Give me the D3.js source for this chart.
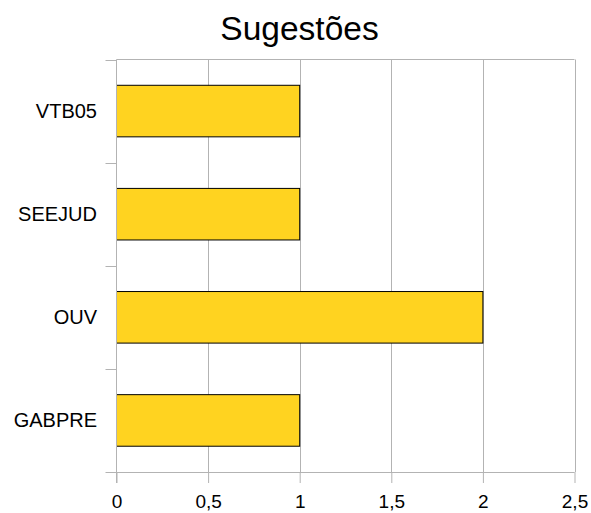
<!DOCTYPE html>
<html><head><meta charset="utf-8">
<script src="https://cdn.jsdelivr.net/npm/d3@7"></script>
<style>body{margin:0;background:#fff}</style>
</head><body>
<svg id="c" width="591" height="513"></svg>
<script>
const title = "Sugestões";
const categories = ["VTB05", "SEEJUD", "OUV", "GABPRE"];
const values = [1, 1, 2, 1];
const xTicks = [0, 0.5, 1, 1.5, 2, 2.5];

const svg = d3.select("#c");
const font = "'Liberation Sans', Arial, sans-serif";
const L = 116.5, R = 574.5, T = 59.5, B = 472;
const x = d3.scaleLinear().domain([0, 2.5]).range([L, R]);
const y = d3.scaleBand().domain(categories).range([T, B]).paddingInner(0.5).paddingOuter(0.25);
const yb = d3.scaleBand().domain(categories).range([T, B]);

svg.append("text").attr("x", 299.5).attr("y", 40).attr("text-anchor", "middle")
  .attr("font-family", font).attr("font-size", 33.5).attr("fill", "#000").text(title);

const grid = "#b3b3b3";
svg.append("g").selectAll("line").data(xTicks.slice(1)).join("line")
  .attr("x1", d => Math.round(x(d)) + 0.5).attr("x2", d => Math.round(x(d)) + 0.5)
  .attr("y1", T).attr("y2", B).attr("stroke", grid).attr("stroke-width", 1);
svg.append("line").attr("x1", L).attr("x2", R).attr("y1", T).attr("y2", T).attr("stroke", grid);

svg.append("g").selectAll("rect").data(categories).join("rect")
  .attr("x", x(0)).attr("y", (d) => y(d))
  .attr("width", (d, i) => x(values[i]) - x(0)).attr("height", y.bandwidth())
  .attr("fill", "#ffd320").attr("stroke", "#000").attr("stroke-width", 1);

const xAxis = d3.axisBottom(x).tickValues(xTicks).tickSize(11).tickPadding(12)
  .tickFormat(d => String(d).replace(".", ","));
const gx = svg.append("g").attr("transform", `translate(0,${B})`).call(xAxis);
gx.select(".domain").attr("stroke", grid).attr("d", `M${L},0.5H${R}`);
gx.selectAll(".tick line").attr("stroke", grid);
gx.selectAll(".tick text").attr("font-family", font).attr("font-size", 19).attr("fill", "#000");

const gy = svg.append("g").attr("transform", `translate(${L},0)`);
gy.append("line").attr("x1", 0).attr("x2", 0).attr("y1", T).attr("y2", B + 11).attr("stroke", grid);
const bounds = categories.map(c => yb(c)).concat([B]);
gy.selectAll("line.t").data(bounds).join("line").attr("class", "t")
  .attr("x1", -11).attr("x2", 0).attr("y1", d => Math.round(d) + 0.5).attr("y2", d => Math.round(d) + 0.5)
  .attr("stroke", grid);
gy.selectAll("text").data(categories).join("text")
  .attr("x", -19.5).attr("y", d => yb(d) + yb.bandwidth() / 2).attr("dy", "0.35em")
  .attr("text-anchor", "end").attr("font-family", font).attr("font-size", 20).attr("fill", "#000")
  .text(d => d);
</script>
</body></html>
